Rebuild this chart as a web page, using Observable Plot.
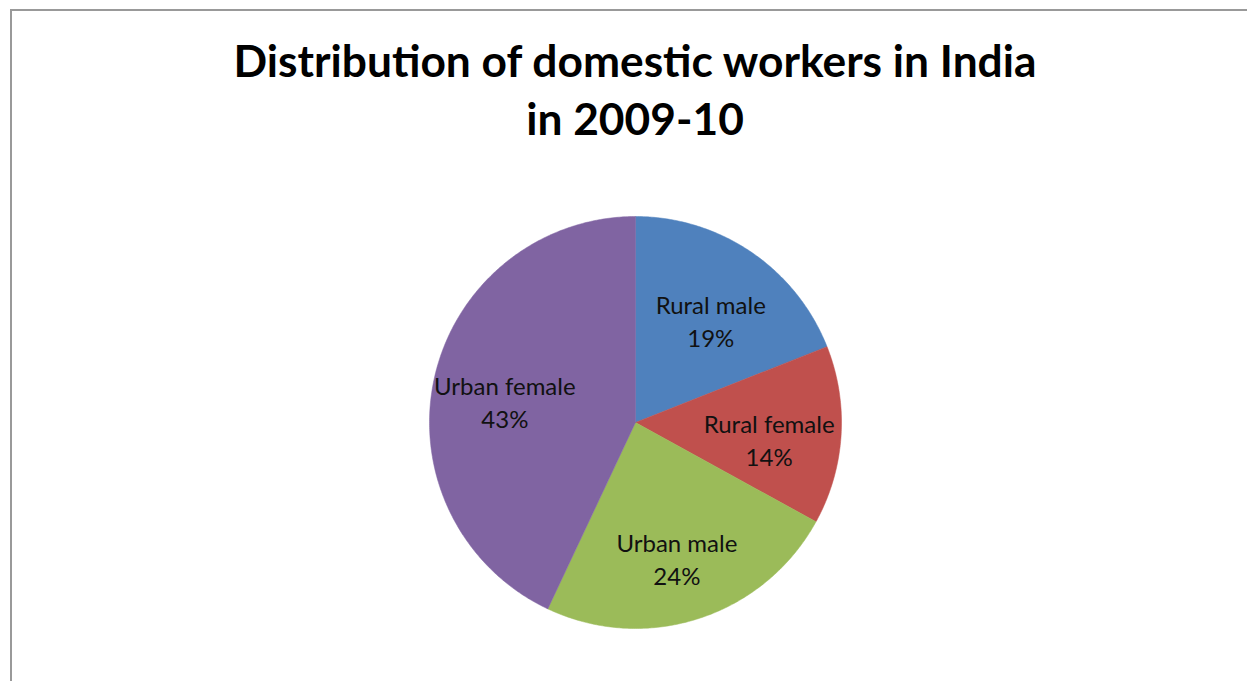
<!DOCTYPE html>
<html><head><meta charset="utf-8">
<script src="https://cdn.jsdelivr.net/npm/d3@7"></script>
<script src="https://cdn.jsdelivr.net/npm/@observablehq/plot@0.6"></script>
<style>
html,body{margin:0;padding:0;background:#fff;width:1247px;height:681px;overflow:hidden;}
#frame{position:absolute;left:10px;top:9px;width:1300px;height:800px;border:2px solid #999;box-sizing:border-box;pointer-events:none;}
#title{position:absolute;left:0;top:31px;width:1270px;text-align:center;font-family:Lato,sans-serif;font-weight:bold;font-size:44.3px;line-height:58px;color:#000;}
#chart{position:absolute;left:0;top:160px;}
</style></head>
<body>
<div id="frame"></div>
<div id="title">Distribution of domestic workers in India<br>in 2009-10</div>
<div id="chart"></div>
<script>
const categories = ["Rural male", "Rural female", "Urban male", "Urban female"];
const shares = [19, 14, 24, 43];
const colors = ["#4F81BD", "#C0504D", "#9BBB59", "#8064A2"];

const total = d3.sum(shares);
let cum = 0;
const slices = categories.map((c, i) => {
  const a0 = cum / total * 2 * Math.PI;
  cum += shares[i];
  const a1 = cum / total * 2 * Math.PI;
  return {label: c, value: shares[i], a0, a1};
});
const pts = [];
slices.forEach(s => {
  pts.push({label: s.label, x: 0, y: 0});
  const n = Math.max(8, Math.ceil((s.a1 - s.a0) / 0.01));
  for (let k = 0; k <= n; k++) {
    const a = s.a0 + (s.a1 - s.a0) * k / n;
    pts.push({label: s.label, x: Math.sin(a), y: Math.cos(a)});
  }
  pts.push({label: s.label, x: 0, y: 0});
});
const labelR = 0.65;
const labels = slices.map(s => {
  const m = (s.a0 + s.a1) / 2;
  return {text: s.label + "\n" + s.value + "%", x: labelR * Math.sin(m), y: labelR * Math.cos(m)};
});

const cx = 635, cy = 262, r = 206;
const plot = Plot.plot({
  width: 1247, height: 521,
  margin: 0,
  x: {domain: [-1, 1], range: [cx - r, cx + r], axis: null},
  y: {domain: [-1, 1], range: [cy + r, cy - r], axis: null},
  color: {domain: categories, range: colors},
  style: {background: "transparent"},
  marks: [
    Plot.line(pts, {x: "x", y: "y", z: "label", fill: "label", stroke: "label", strokeWidth: 0.5, curve: "linear"}),
    Plot.text(labels, {x: "x", y: "y", dy: 8, text: "text", fontSize: 24, lineHeight: 1.375, fill: "#111", fontFamily: "Lato, sans-serif"})
  ]
});
document.getElementById("chart").appendChild(plot);
</script>
</body></html>
